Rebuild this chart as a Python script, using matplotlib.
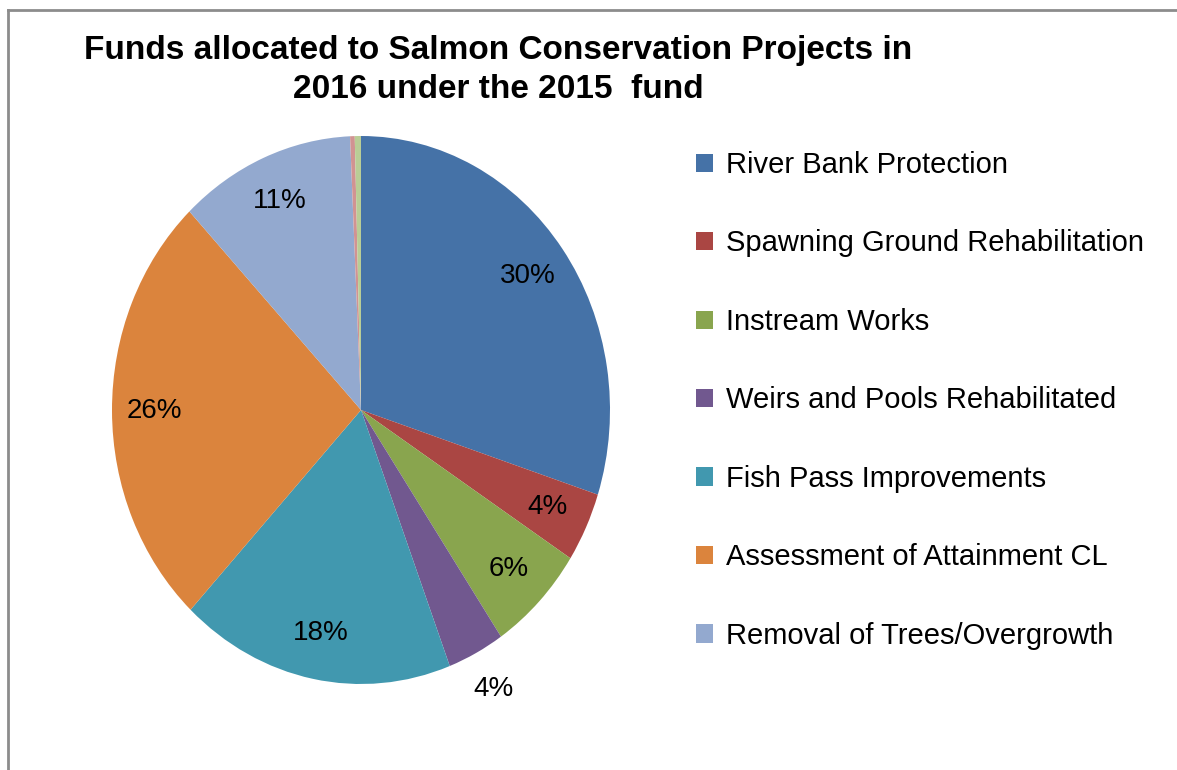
import matplotlib

matplotlib.use("Agg")
import matplotlib.pyplot as plt
from matplotlib.lines import Line2D

categories = [
    "River Bank Protection",
    "Spawning Ground Rehabilitation",
    "Instream Works",
    "Weirs and Pools Rehabilitated",
    "Fish Pass Improvements",
    "Assessment of Attainment CL",
    "Removal of Trees/Overgrowth",
    "",  # two tiny unlabelled slices at the top
    "",
]
shares = [30.0, 4.1, 6.4, 3.7, 17.8, 25.9, 11.4, 0.3, 0.4]
colors = ["#4572A7", "#AA4643", "#89A54E", "#71588F", "#4198AF",
          "#DB843D", "#93A9CF", "#D19392", "#B9CD96"]
n_legend = 7

W, H = 1177, 770
fig = plt.figure(figsize=(W / 100, H / 100), dpi=100)
fig.patch.set_facecolor("white")

FONT = ["Liberation Sans", "DejaVu Sans"]

# pie area (slightly taller than wide, like the original)
ax = fig.add_axes([112 / W, (H - 684) / H, 498 / W, 548 / H])


def fmt(p):
    return "%.0f%%" % p if p >= 1 else ""


wedges, _, autotexts = ax.pie(
    shares,
    colors=colors,
    startangle=90,
    counterclock=False,
    autopct=fmt,
    pctdistance=0.83,
    wedgeprops=dict(linewidth=0),
    textprops=dict(fontsize=20, family=FONT, color="#000000"),
)
ax.set_aspect("auto")
ax.set_xlim(-1, 1)
ax.set_ylim(-1, 1)

# the small weirs label sits outside the pie
x, y = autotexts[3].get_position()
autotexts[3].set_position((x * 1.15 / 0.83, y * 1.15 / 0.83))

# title
fig.text(498 / W, 1 - 51 / H, "Funds allocated to Salmon Conservation Projects in",
         ha="center", va="center", fontsize=24, fontweight="bold", family=FONT)
fig.text(498 / W, 1 - 89 / H, "2016 under the 2015  fund",
         ha="center", va="center", fontsize=24, fontweight="bold", family=FONT)

# legend
handles = [plt.Rectangle((0, 0), 1, 1, fc=c, ec="none") for c in colors[:n_legend]]
fig.legend(
    handles,
    categories[:n_legend],
    loc="upper left",
    bbox_to_anchor=(696 / W, 1 - 151 / H),
    frameon=False,
    prop=dict(family=FONT, size=21),
    borderaxespad=0,
    borderpad=0,
    handlelength=0.58,
    handleheight=0.58,
    handletextpad=0.45,
    labelspacing=1.73,
)

# grey frame on top and left
fig.add_artist(Line2D([8 / W, 1], [1 - 10 / H, 1 - 10 / H], color="#8c8c8c", lw=2,
                      transform=fig.transFigure))
fig.add_artist(Line2D([8 / W, 8 / W], [0, 1 - 10 / H], color="#8c8c8c", lw=2,
                      transform=fig.transFigure))

fig.savefig("out.png", dpi=100, facecolor=fig.get_facecolor())
